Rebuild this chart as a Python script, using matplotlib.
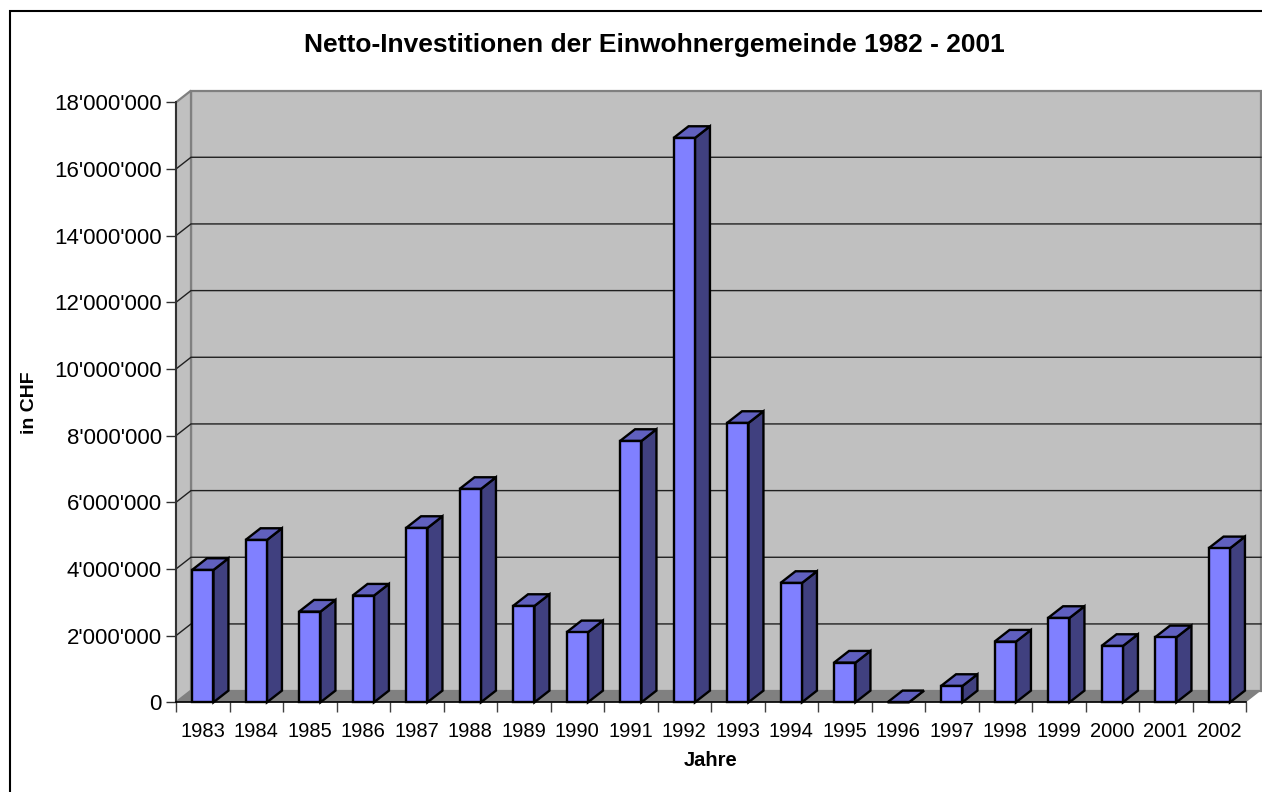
#!/usr/bin/python3
import matplotlib
matplotlib.use('Agg')
import matplotlib.pyplot as plt
from matplotlib.patches import Polygon, Rectangle
from matplotlib.ticker import FuncFormatter

plt.rcParams['font.family'] = ['Liberation Sans', 'DejaVu Sans']

# Data
years = ['1983', '1984', '1985', '1986', '1987', '1988', '1989', '1990', '1991', '1992',
         '1993', '1994', '1995', '1996', '1997', '1998', '1999', '2000', '2001', '2002']
invest = [3.97e6, 4.87e6, 2.72e6, 3.20e6, 5.23e6, 6.40e6, 2.89e6, 2.10e6, 7.84e6, 16.93e6,
          8.38e6, 3.58e6, 1.19e6, 0.0, 0.49e6, 1.82e6, 2.53e6, 1.69e6, 1.95e6, 4.62e6]
y_ticks = [0, 2e6, 4e6, 6e6, 8e6, 10e6, 12e6, 14e6, 16e6, 18e6]

W, H = 1262, 792
fig = plt.figure(figsize=(W / 100, H / 100), dpi=100)
fig.add_artist(Rectangle((10 / W, -0.01), 1.1, 1 - 11 / H + 0.01, transform=fig.transFigure,
                         fill=False, edgecolor='black', linewidth=1.5))

# axes = front plane of the 3D box
ax = fig.add_axes([176 / W, 1 - 702.3 / H, 1070 / W, 600 / H])
ax.set_xlim(0, 20)
ax.set_ylim(0, 18e6)
ax.patch.set_visible(False)

# depth of the box in data units
dx = 15 / 53.5
dy = 11.7 / 600 * 18e6


def face(pts, fc, ec='none', lw=0, z=1):
    ax.add_patch(Polygon(pts, closed=True, facecolor=fc, edgecolor=ec, linewidth=lw,
                         joinstyle='miter', clip_on=False, zorder=z))


# walls and floor
face([(dx, dy), (20 + dx, dy), (20 + dx, 18e6 + dy), (dx, 18e6 + dy)], '#C0C0C0', '#808080', 1.6, 1)
face([(0, 0), (dx, dy), (dx, 18e6 + dy), (0, 18e6)], '#C0C0C0', '#808080', 1.6, 1)
face([(0, 0), (20, 0), (20 + dx, dy), (dx, dy)], '#808080', z=1.5)

# gridlines on side wall and back wall
for t in y_ticks[1:-1]:
    ax.plot([0, dx, 20 + dx], [t, t + dy, t + dy], color='#202020', lw=1.0, clip_on=False,
            solid_joinstyle='miter', zorder=2)

# bars
gap = 1.5
bw = 1 / (1 + gap)
pos = [i + 0.5 for i in range(len(years))]
ax.bar(pos, invest, width=bw, color='#8080FF', edgecolor='black', linewidth=1.7, zorder=4,
       clip_on=False)
for p, v in zip(pos, invest):
    l, r = p - bw / 2, p + bw / 2
    face([(r, 0), (r + dx, dy), (r + dx, v + dy), (r, v)], '#40407F', 'black', 1.7, 3)
    face([(l, v), (r, v), (r + dx, v + dy), (l + dx, v + dy)], '#6060BF', 'black', 1.7, 3)

ax.yaxis.set_major_formatter(FuncFormatter(lambda v, _: f'{int(v):,}'.replace(',', "'")))
ax.set_yticks(y_ticks)
ax.set_xticks(range(len(years) + 1), minor=False, labels=[''] * (len(years) + 1))
ax.set_xticks(pos, labels=years, minor=True)
ax.tick_params(axis='y', labelsize=16, length=7.2, width=1.0, pad=3, color='#303030', direction='out')
ax.tick_params(axis='x', which='major', length=7.2, width=1.0, color='#404040', direction='out')
ax.tick_params(axis='x', which='minor', length=0, labelsize=14.5, pad=14.5)

for s in ('top', 'right'):
    ax.spines[s].set_visible(False)
ax.spines['left'].set_color('#303030')
ax.spines['left'].set_linewidth(1.4)
ax.spines['bottom'].set_linewidth(1.2)
ax.spines['left'].set_zorder(2.5)
ax.spines['bottom'].set_zorder(2.5)

fig.text(654.5 / W, 1 - 45 / H, 'Netto-Investitionen der Einwohnergemeinde 1982 - 2001',
         ha='center', va='center', fontsize=19, fontweight='bold')
fig.text(711 / W, 1 - 761 / H, 'Jahre', ha='center', va='center', fontsize=14.5, fontweight='bold')
fig.text(30 / W, 1 - 403 / H, 'in CHF', ha='center', va='center', rotation=90, fontsize=14,
         fontweight='bold')

fig.savefig('out.png', dpi=100)
